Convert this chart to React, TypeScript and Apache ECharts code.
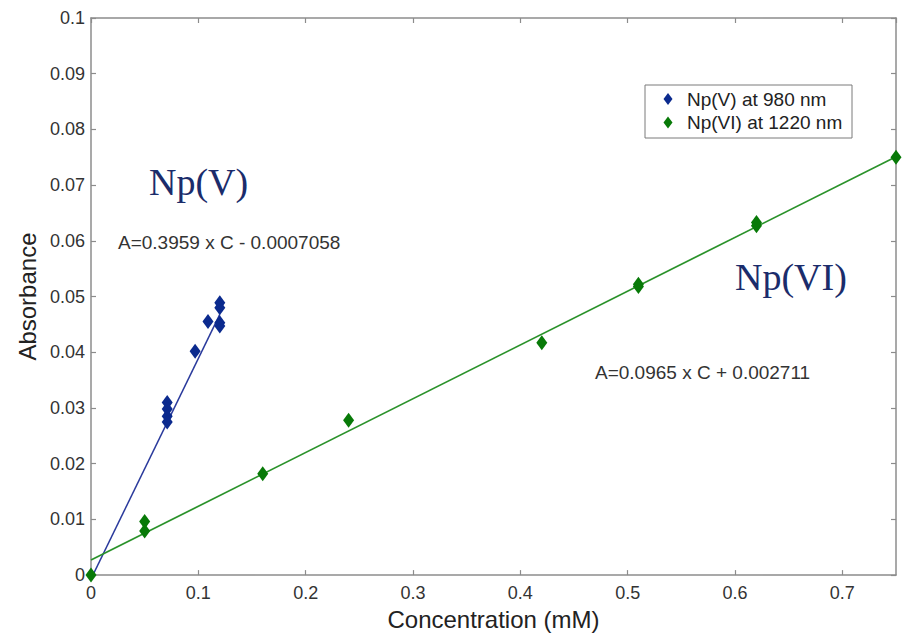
import React, { useEffect, useRef } from "react";
import * as echarts from "echarts";

// Np(V) at 980 nm measurements [concentration mM, absorbance]
const npVConc = [0.071, 0.071, 0.071, 0.071, 0.097, 0.109, 0.12, 0.12, 0.12, 0.12];
const npVAbs = [0.031, 0.0298, 0.0285, 0.0275, 0.0402, 0.0455, 0.0489, 0.048, 0.0453, 0.0447];
// Np(VI) at 1220 nm measurements
const npVIConc = [0, 0.05, 0.05, 0.16, 0.24, 0.42, 0.51, 0.51, 0.62, 0.62, 0.75];
const npVIAbs = [0, 0.0096, 0.0079, 0.0182, 0.0278, 0.0417, 0.0518, 0.0522, 0.0627, 0.0633, 0.075];
// fitted lines (end points)
const fitVConc = [0, 0.12];
const fitVAbs = [-0.0007, 0.0468];
const fitVIConc = [0, 0.75];
const fitVIAbs = [0.0027, 0.0751];

const legendLabels = ["Np(V) at 980 nm", "Np(VI) at 1220 nm"];
const eqV = "A=0.3959 x C - 0.0007058";
const eqVI = "A=0.0965 x C + 0.002711";
const xTitle = "Concentration (mM)";
const yTitle = "Absorbance";

const SANS = "'Liberation Sans', Arial, Helvetica, sans-serif";
const SERIF = "'Liberation Serif', 'Times New Roman', serif";
const BLUE = "#0b2a8e";
const BLUE_LINE = "#2a3a9c";
const GREEN = "#087a08";
const GREEN_LINE = "#2a922a";
const AXIS = "#8c8c8c";

const zip = (a: number[], b: number[]) => a.map((v, i) => [v, b[i]]);
const fmt = (v: number) => String(Math.round(v * 1000) / 1000);

export default function App() {
  const ref = useRef<HTMLDivElement>(null);
  useEffect(() => {
    if (!ref.current) return;
    const chart = echarts.init(ref.current, undefined, { renderer: "svg" });
    const axisCommon = {
      type: "value" as const,
      axisLine: { show: true, onZero: false, lineStyle: { color: AXIS, width: 1.5 } },
      axisTick: { show: true, inside: true, length: 5, lineStyle: { color: AXIS, width: 1.2 } },
      splitLine: { show: false },
    };
    chart.setOption({
      animation: false,
      backgroundColor: "#fff",
      grid: { left: 91, right: 6, top: 18, bottom: 53, containLabel: false },
      xAxis: [
        {
          ...axisCommon,
          min: 0,
          max: 0.75,
          interval: 0.1,
          position: "bottom",
          name: xTitle,
          nameLocation: "middle",
          nameGap: 29,
          nameTextStyle: { fontFamily: SANS, fontSize: 24, color: "#222" },
          axisLabel: {
            fontFamily: SANS,
            fontSize: 18,
            color: "#333",
            margin: 9,
            showMaxLabel: false,
            formatter: fmt,
          },
        },
        {
          ...axisCommon,
          min: 0,
          max: 0.75,
          interval: 0.1,
          position: "top",
          axisLabel: { show: false },
        },
      ],
      yAxis: [
        {
          ...axisCommon,
          min: 0,
          max: 0.1,
          interval: 0.01,
          position: "left",
          name: yTitle,
          nameLocation: "middle",
          nameGap: 42,
          nameRotate: 90,
          nameTextStyle: { fontFamily: SANS, fontSize: 24, color: "#222" },
          axisLabel: { fontFamily: SANS, fontSize: 18, color: "#333", margin: 6, formatter: fmt },
        },
        {
          ...axisCommon,
          min: 0,
          max: 0.1,
          interval: 0.01,
          position: "right",
          axisLabel: { show: false },
        },
      ],
      series: [
        {
          type: "line",
          name: "fitV",
          data: zip(fitVConc, fitVAbs),
          showSymbol: false,
          symbol: "none",
          lineStyle: { color: BLUE_LINE, width: 1.5 },
          z: 2,
        },
        {
          type: "line",
          name: "fitVI",
          data: zip(fitVIConc, fitVIAbs),
          showSymbol: false,
          symbol: "none",
          lineStyle: { color: GREEN_LINE, width: 1.7 },
          z: 2,
        },
        {
          type: "scatter",
          name: legendLabels[0],
          data: zip(npVConc, npVAbs),
          symbol: "diamond",
          symbolSize: [11, 15],
          itemStyle: { color: BLUE, opacity: 1 },
          z: 3,
        },
        {
          type: "scatter",
          name: legendLabels[1],
          data: zip(npVIConc, npVIAbs),
          symbol: "diamond",
          symbolSize: [11, 15],
          itemStyle: { color: GREEN, opacity: 1 },
          clip: false,
          z: 3,
        },
      ],
      graphic: [
        {
          type: "rect",
          shape: { x: 645, y: 85, width: 207, height: 53 },
          style: { fill: "#fff", stroke: "#7a7a7a", lineWidth: 1 },
          z: 10,
        },
        {
          type: "polygon",
          shape: { points: [[668, 93], [672.5, 99], [668, 105], [663.5, 99]] },
          style: { fill: BLUE },
          z: 11,
        },
        {
          type: "polygon",
          shape: { points: [[668, 116.5], [672.5, 122.5], [668, 128.5], [663.5, 122.5]] },
          style: { fill: GREEN },
          z: 11,
        },
        {
          type: "text",
          x: 687,
          y: 99,
          style: { text: legendLabels[0], font: `19px ${SANS}`, fill: "#222", verticalAlign: "middle" },
          z: 11,
        },
        {
          type: "text",
          x: 687,
          y: 122.5,
          style: { text: legendLabels[1], font: `19px ${SANS}`, fill: "#222", verticalAlign: "middle" },
          z: 11,
        },
        {
          type: "text",
          x: 149,
          y: 182,
          style: { text: "Np(V)", font: `38px ${SERIF}`, fill: "#1b2c6b", verticalAlign: "middle" },
          z: 11,
        },
        {
          type: "text",
          x: 735,
          y: 277,
          style: { text: "Np(VI)", font: `38px ${SERIF}`, fill: "#1b2c6b", verticalAlign: "middle" },
          z: 11,
        },
        {
          type: "text",
          x: 118,
          y: 242,
          style: { text: eqV, font: `19px ${SANS}`, fill: "#333", verticalAlign: "middle" },
          z: 11,
        },
        {
          type: "text",
          x: 595,
          y: 372,
          style: { text: eqVI, font: `19px ${SANS}`, fill: "#333", verticalAlign: "middle" },
          z: 11,
        },
      ],
    });
    return () => chart.dispose();
  }, []);
  return (
    <div
      ref={ref}
      style={{ position: "fixed", left: 0, top: 0, width: 902, height: 636, background: "#fff" }}
    />
  );
}
